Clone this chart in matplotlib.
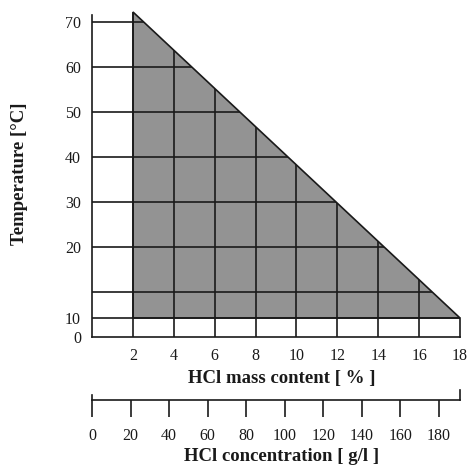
import matplotlib
matplotlib.use("Agg")
import matplotlib.pyplot as plt
from matplotlib.patches import Polygon

# HCl mass content axis (%)
mass_pct = [2, 4, 6, 8, 10, 12, 14, 16, 18]
# HCl concentration axis (g/l)
conc_ticks = [0, 20, 40, 60, 80, 100, 120, 140, 160, 180]
conc_end = 191
# temperature axis: grid positions and labels (the drawing's scale is broken below 20)
temp_pos = [0, 4.2, 20, 30, 40, 50, 60, 70]
temp_labels = ["0", "10", "20", "30", "40", "50", "60", "70"]
temp_grid = [4.2, 10, 20, 30, 40, 50, 60, 70]
# shaded operating region: corners (mass %, temperature)
region_pct = [2, 2, 18]
region_temp = [72.2, 4.2, 4.2]

plt.rcParams["font.family"] = ["Liberation Serif", "DejaVu Serif"]
INK = "#1a1a1a"
LW = 1.2

fig = plt.figure(figsize=(4.68, 4.68), dpi=100)
W = H = 468.0
ax = fig.add_axes([92 / W, (H - 337) / H, 368 / W, 327 / H])
ax.set_xlim(0, 18)
ax.set_ylim(0, 72.67)
for s in ax.spines.values():
    s.set_visible(False)

tri = Polygon(list(zip(region_pct, region_temp)), closed=True,
              facecolor="#939393", edgecolor=INK, lw=LW, zorder=1)
ax.add_patch(tri)

clip = Polygon([(0, 0), (18, 0), (18, region_temp[2]),
                (region_pct[0], region_temp[0]), (0, region_temp[0])],
               closed=True, transform=ax.transData, facecolor="none", edgecolor="none")
ax.add_patch(clip)
hl = ax.hlines(temp_grid, 0, 18, colors=INK, lw=LW, zorder=2)
vl = ax.vlines(mass_pct[:-1], 0, region_temp[0], colors=INK, lw=LW, zorder=2)
hl.set_clip_path(clip)
vl.set_clip_path(clip)

# axis frame
ax.plot([0, 0], [0, 71.6], color=INK, lw=LW, clip_on=False, zorder=3)
ax.plot([0, 18], [0, 0], color=INK, lw=LW, clip_on=False, zorder=3)
ax.plot([18, 18], [0, region_temp[2]], color=INK, lw=LW, clip_on=False, zorder=3)

ax.set_xticks(mass_pct)
ax.set_xticklabels([str(v) for v in mass_pct])
ax.set_yticks(temp_pos)
ax.set_yticklabels(temp_labels)
ax.tick_params(axis="both", length=0, labelsize=11.5, colors=INK)
ax.tick_params(axis="x", pad=8)
ax.tick_params(axis="y", pad=8)

ax.set_xlabel("HCl mass content [ % ]", fontsize=13.5, fontweight="bold", color=INK)
ax.xaxis.set_label_coords(0.516, -0.102)
ax.set_ylabel("Temperature [°C]", fontsize=13.5, fontweight="bold", color=INK)
ax.yaxis.set_label_coords(-0.174, 0.5)

# concentration scale below
ax2 = fig.add_axes([92 / W, (H - 400) / H, 368 / W, 10 / H])
ax2.set_xlim(0, conc_end)
ax2.set_ylim(0, 1)
for k in ["top", "left", "right"]:
    ax2.spines[k].set_visible(False)
ax2.spines["bottom"].set_linewidth(LW)
ax2.spines["bottom"].set_color(INK)
ax2.patch.set_visible(False)
ax2.set_yticks([])
ax2.set_xticks(conc_ticks)
ax2.set_xticklabels([str(v) for v in conc_ticks])
ax2.tick_params(axis="x", direction="out", length=12, width=LW, color=INK,
                labelsize=11.5, pad=8, labelcolor=INK)
ax2.plot([0, 0], [0, 0.5], color=INK, lw=LW, clip_on=False)
ax2.plot([conc_end, conc_end], [0, 1.0], color=INK, lw=LW, clip_on=False)
ax2.set_xlabel("HCl concentration [ g/l ]", fontsize=13.5, fontweight="bold", color=INK)
ax2.xaxis.set_label_coords(0.516, -4.8)

fig.savefig("out.png", dpi=100, facecolor="white")
